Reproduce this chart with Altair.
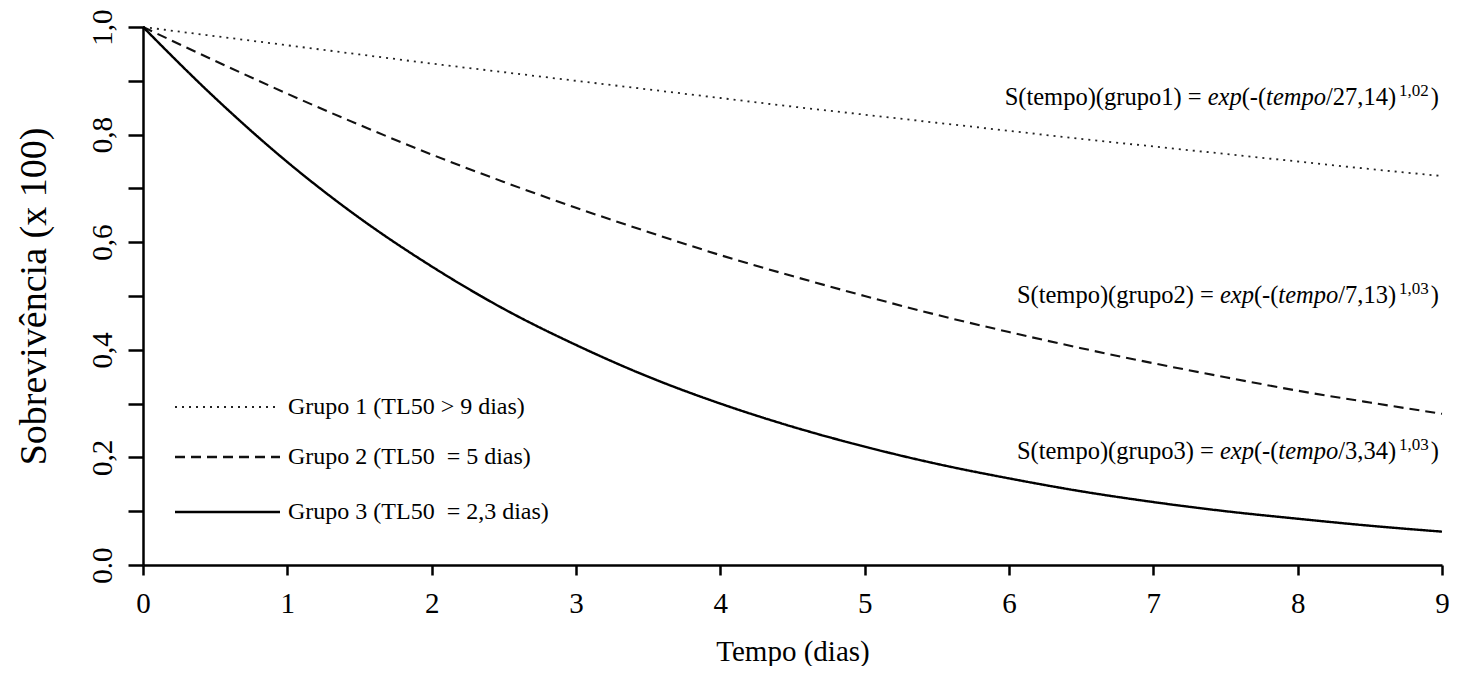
import altair as alt
import pandas as pd

# ---------------- data ----------------
tempo = [0, 0.5, 1, 1.5, 2, 2.5, 3, 3.5, 4, 4.5, 5, 5.5, 6, 6.5, 7, 7.5, 8, 8.5, 9]
grupo1 = [1.000, 0.983, 0.966, 0.949, 0.932, 0.916, 0.900, 0.884, 0.868, 0.852,
          0.837, 0.822, 0.807, 0.792, 0.778, 0.764, 0.750, 0.736, 0.723]
grupo2 = [1.000, 0.937, 0.876, 0.818, 0.763, 0.712, 0.664, 0.619, 0.576, 0.537,
          0.500, 0.465, 0.433, 0.403, 0.375, 0.349, 0.324, 0.302, 0.281]
grupo3 = [1.000, 0.868, 0.749, 0.645, 0.555, 0.476, 0.409, 0.350, 0.300, 0.257,
          0.220, 0.188, 0.161, 0.137, 0.117, 0.100, 0.086, 0.073, 0.062]

grupos = ["Grupo 1", "Grupo 2", "Grupo 3"]
legend_labels = ["Grupo 1 (TL50 > 9 dias)",
                 "Grupo 2 (TL50\u00a0 = 5 dias)",
                 "Grupo 3 (TL50\u00a0 = 2,3 dias)"]
eq_scale = ["27,14", "7,13", "3,34"]
eq_shape = ["1,02", "1,03", "1,03"]

x_ticks = list(range(10))
y_ticks = [round(i / 10, 1) for i in range(11)]

# ---------------- layout / style ----------------
FONT = "Liberation Serif"
W, H = 1299, 538
PAD = {"left": 135, "top": 19, "right": 7, "bottom": 101}

dash_range = [[2, 5], [10, 6], [1, 0]]
width_range = [1.8, 2.4, 2.3]
color_range = ["#222222", "#111111", "#000000"]

rows = []
for g, vals in zip(grupos, [grupo1, grupo2, grupo3]):
    for t, v in zip(tempo, vals):
        rows.append({"tempo": t, "S": v, "grupo": g})
df = pd.DataFrame(rows)

x_scale = alt.Scale(domain=[0, 9], nice=False, zero=False)
y_scale = alt.Scale(domain=[0, 1], nice=False)

x_axis = alt.Axis(values=x_ticks, format="d", grid=False,
                  domainColor="black", domainWidth=2.5,
                  tickColor="black", tickWidth=2.5, tickSize=10,
                  labelFont=FONT, labelFontSize=29, labelColor="black",
                  labelPadding=14, labelFlush=False,
                  titleFont=FONT, titleFontSize=29, titleFontWeight="normal",
                  titleColor="black", titleY=95, titleBaseline="alphabetic")

y_label_expr = ("datum.value == 0 ? '0.0' : (round(datum.value*10) % 2 == 0 ? "
                "replace(format(datum.value, '.1f'), '.', ',') : '')")
y_axis = alt.Axis(values=y_ticks, labelExpr=y_label_expr, grid=False,
                  domainColor="black", domainWidth=2.5,
                  tickColor="black", tickWidth=2.5, tickSize=15,
                  labelFont=FONT, labelFontSize=29, labelColor="black",
                  labelAngle=270, labelAlign="center", labelBaseline="alphabetic",
                  labelPadding=17, labelFlush=False, labelOverlap=False,
                  titleFont=FONT, titleFontSize=38, titleFontWeight="normal",
                  titleColor="black", titleAngle=270, titleAlign="center",
                  titleBaseline="alphabetic", titleX=-98, titleY=H / 2)

lines = alt.Chart(df).mark_line(interpolate="monotone").encode(
    x=alt.X("tempo:Q", scale=x_scale, axis=x_axis, title="Tempo (dias)"),
    y=alt.Y("S:Q", scale=y_scale, axis=y_axis, title="Sobrevivência (x 100)"),
    strokeDash=alt.StrokeDash("grupo:N", scale=alt.Scale(domain=grupos, range=dash_range), legend=None),
    strokeWidth=alt.StrokeWidth("grupo:O", scale=alt.Scale(domain=grupos, range=width_range), legend=None),
    color=alt.Color("grupo:N", scale=alt.Scale(domain=grupos, range=color_range), legend=None),
)

# ---------------- manual legend ----------------
LEG_Y = [380, 430, 485]
LEG_X1, LEG_X2, LEG_TX = 32, 137, 145
legend_layers = []
for i in range(3):
    rule = alt.Chart(pd.DataFrame({"g": [grupos[i]]})).mark_rule(
        strokeDash=dash_range[i], strokeWidth=width_range[i], color=color_range[i]
    ).encode(x=alt.value(LEG_X1), x2=alt.value(LEG_X2), y=alt.value(LEG_Y[i]))
    txt = alt.Chart(pd.DataFrame({"label": [legend_labels[i]]})).mark_text(
        align="left", baseline="middle", font=FONT, fontSize=24, color="black"
    ).encode(x=alt.value(LEG_TX), y=alt.value(LEG_Y[i]), text="label:N")
    legend_layers += [rule, txt]

# ---------------- equations (mixed styles) ----------------
REG = {"S": .556, "(": .333, ")": .333, "t": .278, "e": .444, "m": .778, "p": .5,
       "o": .5, "g": .5, "r": .333, "u": .5, " ": .25, "=": .564, "-": .333,
       "/": .278, ",": .25, "x": .5}
ITA = {"e": .444, "x": .444, "p": .5, "t": .278, "m": .722, "o": .5}
EQ_SIZE, SUP_SIZE = 24.5, 17
EQ_RIGHT_PX = 1296
EQ_BASE_PX = [78, 276, 432]   # baselines, from plot top


def text_width(s, table, size):
    return sum(table.get(c, 0.5) for c in s) * size


eq_rows = []
for k in range(3):
    pieces = [(f"S(tempo)(grupo{k + 1}) = ", "n"), ("exp", "i"), ("(-(", "n"),
              ("tempo", "i"), (f"/{eq_scale[k]})", "n"), (eq_shape[k], "s"), (")", "n")]
    offs, cur = [], 0.0
    for txt, st in pieces:
        if st == "s":
            cur += 3
        offs.append(cur)
        if st == "n":
            cur += text_width(txt, REG, EQ_SIZE)
        elif st == "i":
            cur += text_width(txt, ITA, EQ_SIZE)
        else:
            cur += text_width(txt, REG, SUP_SIZE) + 2
    left = EQ_RIGHT_PX - cur
    ydata = (H - EQ_BASE_PX[k]) / H
    for (txt, st), o in zip(pieces, offs):
        eq_rows.append({"x": (left + o) * 9 / W, "y": ydata, "txt": txt, "style": st})
eq_df = pd.DataFrame(eq_rows)

eq_base = alt.Chart(eq_df).encode(x=alt.X("x:Q", scale=x_scale),
                                  y=alt.Y("y:Q", scale=y_scale),
                                  text="txt:N")
eq_norm = eq_base.transform_filter("datum.style == 'n'").mark_text(
    align="left", baseline="alphabetic", font=FONT, fontSize=EQ_SIZE, color="black")
eq_ital = eq_base.transform_filter("datum.style == 'i'").mark_text(
    align="left", baseline="alphabetic", font=FONT, fontSize=EQ_SIZE,
    fontStyle="italic", color="black")
eq_sup = eq_base.transform_filter("datum.style == 's'").mark_text(
    align="left", baseline="alphabetic", font=FONT, fontSize=SUP_SIZE,
    dy=-9, color="black")

chart = alt.layer(lines, *legend_layers, eq_norm, eq_ital, eq_sup).properties(
    width=W, height=H, padding=PAD,
    autosize=alt.AutoSizeParams(type="none"),
).configure_view(stroke=None)

chart.save("out.html", embed_options={"renderer": "svg", "actions": False})
